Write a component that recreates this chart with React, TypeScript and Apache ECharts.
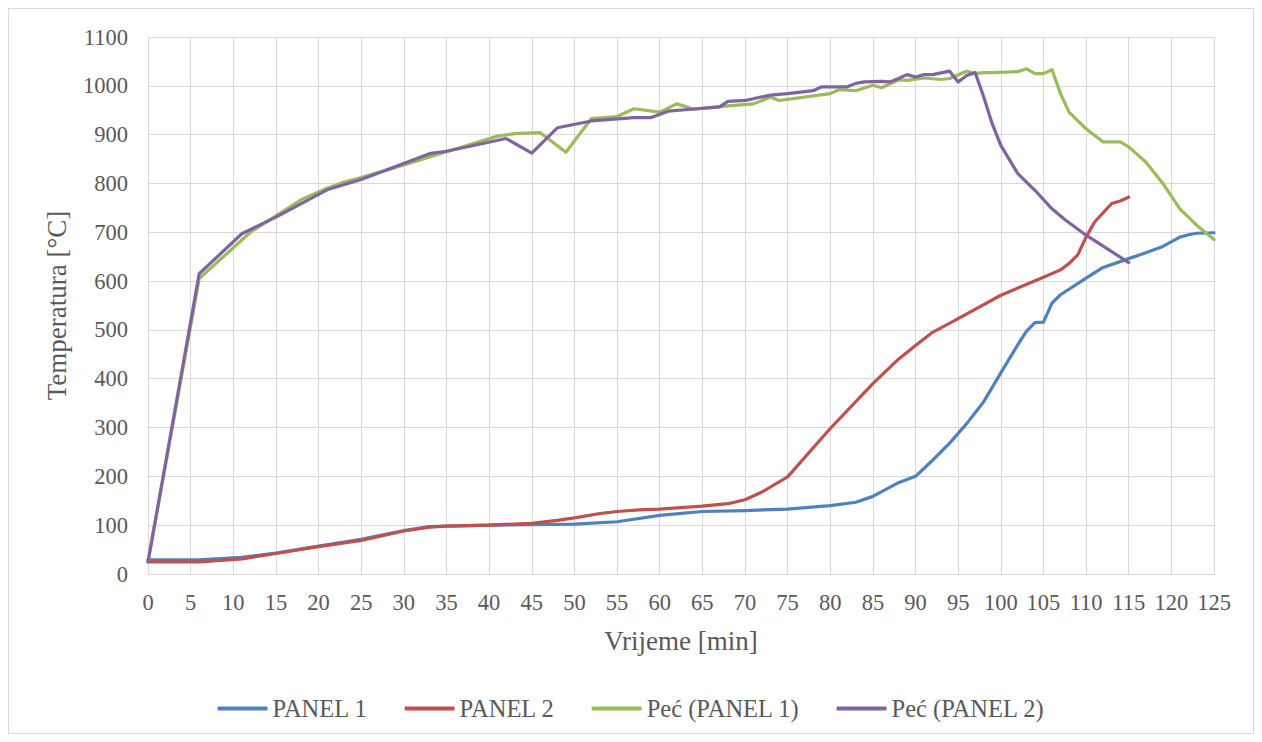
import React, { useEffect, useRef } from "react";
import * as echarts from "echarts";

const seriesNames = ["PANEL 1", "PANEL 2", "Peć (PANEL 1)", "Peć (PANEL 2)"];
const seriesColors = ["#4F81BD", "#C0504D", "#9BBB59", "#8064A2"];

const xTicks = { min: 0, max: 125, interval: 5 };
const yTicks = { min: 0, max: 1100, interval: 100 };

const panel1: [number, number][] = [
  [0, 29], [6, 29], [11, 34], [15, 43], [20, 57], [25, 71], [30, 89], [33, 97], [35, 98],
  [40, 100], [45, 101], [50, 102], [55, 107], [60, 120], [65, 128], [70, 130], [75, 133],
  [80, 140], [83, 147], [85, 159], [88, 187], [90, 200], [92, 233], [94, 268], [96, 308],
  [98, 353], [100, 412], [102, 470], [103, 497], [104, 515], [105, 516], [106, 555],
  [107, 572], [110, 606], [112, 628], [115, 646], [117, 658], [119, 671], [121, 690],
  [122, 695], [123, 698], [125, 699],
];

const panel2: [number, number][] = [
  [0, 25], [6, 25], [11, 31], [15, 42], [20, 56], [25, 69], [30, 88], [33, 96], [35, 98],
  [40, 100], [45, 104], [48, 110], [50, 115], [53, 124], [55, 128], [58, 132], [60, 133],
  [65, 139], [68, 144], [70, 152], [72, 168], [75, 199], [80, 298], [85, 390], [88, 440],
  [90, 468], [92, 495], [95, 523], [100, 571], [105, 608], [107, 623], [108, 636],
  [109, 653], [110, 690], [111, 721], [113, 759], [114, 764], [115, 772],
];

const furnace1: [number, number][] = [
  [0, 25], [6, 605], [12, 700], [18, 767], [21, 790], [23, 803], [25, 812], [30, 838],
  [35, 865], [41, 897], [43, 902], [46, 904], [49, 864], [52, 933], [55, 937], [57, 953],
  [60, 946], [62, 963], [64, 952], [68, 959], [71, 963], [73, 977], [74, 970], [80, 984],
  [81, 992], [83, 990], [85, 1001], [86, 996], [88, 1012], [89, 1011], [91, 1016],
  [93, 1013], [94, 1015], [96, 1030], [97, 1025], [98, 1027], [99, 1027], [102, 1029],
  [103, 1035], [104, 1025], [105, 1025], [106, 1033], [107, 984], [108, 946], [110, 912],
  [112, 885], [114, 885], [115, 875], [117, 844], [119, 800], [121, 748], [123, 714],
  [125, 685],
];

const furnace2: [number, number][] = [
  [0, 25], [6, 615], [11, 697], [15, 731], [21, 787], [25, 808], [33, 861], [35, 866],
  [42, 892], [45, 862], [48, 914], [52, 928], [57, 935], [59, 935], [61, 948], [63, 951],
  [67, 957], [68, 968], [70, 970], [73, 981], [75, 984], [78, 990], [79, 998], [82, 998],
  [83, 1005], [84, 1008], [86, 1009], [87, 1008], [88, 1015], [89, 1023], [90, 1018],
  [91, 1023], [92, 1023], [94, 1030], [95, 1008], [96, 1021], [97, 1027], [98, 977],
  [99, 922], [100, 878], [102, 820], [104, 786], [106, 748], [107.5, 726], [110, 694],
  [112.5, 666], [115, 638],
];

const allData = [panel1, panel2, furnace1, furnace2];

const FONT = "Liberation Serif";
const TEXT_COLOR = "#595959";
const GRID_COLOR = "#d9d9d9";

export default function App() {
  const ref = useRef<HTMLDivElement>(null);

  useEffect(() => {
    if (!ref.current) return;
    const chart = echarts.init(ref.current, undefined, { renderer: "svg" });
    chart.setOption({
      animation: false,
      backgroundColor: "#ffffff",
      textStyle: { fontFamily: FONT },
      grid: { left: 139, right: 39, top: 28, bottom: 159, containLabel: false },
      legend: {
        top: 682,
        left: "center",
        itemWidth: 50,
        itemHeight: 4,
        itemGap: 37,
        icon: "roundRect",
        textStyle: { fontFamily: FONT, fontSize: 24.5, color: TEXT_COLOR },
        data: seriesNames,
      },
      xAxis: {
        type: "value",
        min: xTicks.min,
        max: xTicks.max,
        interval: xTicks.interval,
        name: "Vrijeme [min]",
        nameLocation: "middle",
        nameGap: 53,
        nameTextStyle: { fontFamily: FONT, fontSize: 27, color: TEXT_COLOR },
        axisLine: { show: true, lineStyle: { color: GRID_COLOR, width: 1 } },
        axisTick: { show: false },
        axisLabel: {
          fontFamily: FONT,
          fontSize: 22.5,
          color: TEXT_COLOR,
          margin: 17,
          formatter: (v: number) => String(v),
        },
        splitLine: { show: true, lineStyle: { color: GRID_COLOR, width: 1 } },
      },
      yAxis: {
        type: "value",
        min: yTicks.min,
        max: yTicks.max,
        interval: yTicks.interval,
        name: "Temperatura [°C]",
        nameLocation: "middle",
        nameGap: 78,
        nameTextStyle: { fontFamily: FONT, fontSize: 27, color: TEXT_COLOR },
        axisLine: { show: true, lineStyle: { color: GRID_COLOR, width: 1 } },
        axisTick: { show: false },
        axisLabel: {
          fontFamily: FONT,
          fontSize: 22.5,
          color: TEXT_COLOR,
          margin: 20,
          formatter: (v: number) => String(v),
        },
        splitLine: { show: true, lineStyle: { color: GRID_COLOR, width: 1 } },
      },
      series: seriesNames.map((name, i) => ({
        name,
        type: "line",
        data: allData[i],
        showSymbol: false,
        symbol: "none",
        smooth: false,
        color: seriesColors[i],
        lineStyle: { color: seriesColors[i], width: 3.2, cap: "round", join: "round" },
      })),
    });
    return () => chart.dispose();
  }, []);

  return (
    <div
      style={{
        width: 1246,
        height: 726,
        border: "1px solid #d9d9d9",
        boxSizing: "border-box",
        background: "#fff",
      }}
    >
      <div ref={ref} style={{ width: 1244, height: 724 }} />
    </div>
  );
}
